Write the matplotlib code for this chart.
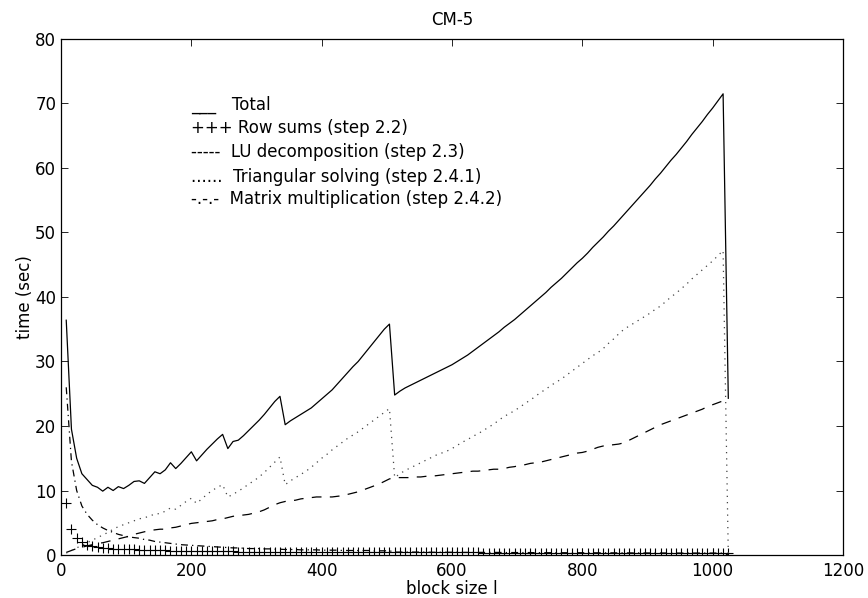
import matplotlib
matplotlib.use("Agg")
import matplotlib.pyplot as plt

plt.rcParams["font.family"] = ["DejaVu Sans"]
plt.rcParams["lines.scale_dashes"] = False

# block sizes l (8 .. 1024, step 8)
block_size = [
    8, 16, 24, 32, 40, 48, 56, 64, 72, 80, 88, 96, 104, 112, 120, 128,
    136, 144, 152, 160, 168, 176, 184, 192, 200, 208, 216, 224, 232, 240, 248, 256,
    264, 272, 280, 288, 296, 304, 312, 320, 328, 336, 344, 352, 360, 368, 376, 384,
    392, 400, 408, 416, 424, 432, 440, 448, 456, 464, 472, 480, 488, 496, 504, 512,
    520, 528, 536, 544, 552, 560, 568, 576, 584, 592, 600, 608, 616, 624, 632, 640,
    648, 656, 664, 672, 680, 688, 696, 704, 712, 720, 728, 736, 744, 752, 760, 768,
    776, 784, 792, 800, 808, 816, 824, 832, 840, 848, 856, 864, 872, 880, 888, 896,
    904, 912, 920, 928, 936, 944, 952, 960, 968, 976, 984, 992, 1000, 1008, 1016, 1024,
]

total = [
    36.4, 19.5, 15.0, 12.6, 11.7, 10.8, 10.5, 9.9, 10.5, 10.0, 10.6, 10.3, 10.8, 11.4, 11.5, 11.1,
    12.0, 12.9, 12.6, 13.2, 14.3, 13.4, 14.2, 15.1, 16.0, 14.6, 15.5, 16.4, 17.2, 18.0, 18.7, 16.5,
    17.6, 17.8, 18.5, 19.3, 20.1, 20.9, 21.8, 22.8, 23.8, 24.6, 20.2, 20.8, 21.3, 21.8, 22.3, 22.8,
    23.5, 24.2, 24.9, 25.6, 26.5, 27.4, 28.3, 29.2, 30.0, 31.0, 32.0, 33.0, 34.0, 35.0, 35.8, 24.8,
    25.4, 25.9, 26.3, 26.7, 27.1, 27.5, 27.9, 28.3, 28.7, 29.1, 29.5, 30.0, 30.5, 31.0, 31.6, 32.2,
    32.8, 33.4, 34.0, 34.6, 35.3, 35.9, 36.5, 37.2, 37.9, 38.6, 39.3, 40.0, 40.7, 41.5, 42.2, 42.9,
    43.7, 44.5, 45.3, 46.0, 46.8, 47.7, 48.5, 49.3, 50.2, 51.0, 51.9, 52.8, 53.7, 54.6, 55.5, 56.4,
    57.3, 58.3, 59.2, 60.2, 61.2, 62.1, 63.1, 64.1, 65.2, 66.2, 67.2, 68.3, 69.3, 70.4, 71.5, 24.3,
]

row_sums = [
    8.0, 4.0, 2.6, 2.0, 1.6, 1.4, 1.25, 1.15, 1.1, 1.0, 0.98, 0.93, 0.9, 0.87, 0.84, 0.8,
    0.78, 0.75, 0.73, 0.71, 0.69, 0.67, 0.66, 0.65, 0.64, 0.62, 0.61, 0.6, 0.59, 0.58, 0.57, 0.56,
    0.55, 0.54, 0.53, 0.53, 0.52, 0.51, 0.5, 0.5, 0.49, 0.49, 0.48, 0.48, 0.47, 0.47, 0.46, 0.46,
    0.45, 0.45, 0.45, 0.44, 0.44, 0.44, 0.43, 0.43, 0.43, 0.42, 0.42, 0.42, 0.42, 0.41, 0.41, 0.41,
    0.4, 0.4, 0.4, 0.4, 0.4, 0.4, 0.4, 0.4, 0.39, 0.39, 0.39, 0.39, 0.39, 0.39, 0.39, 0.39,
    0.38, 0.38, 0.38, 0.38, 0.38, 0.38, 0.38, 0.38, 0.37, 0.37, 0.37, 0.37, 0.37, 0.37, 0.37, 0.37,
    0.36, 0.36, 0.36, 0.36, 0.36, 0.36, 0.36, 0.36, 0.35, 0.35, 0.35, 0.35, 0.35, 0.35, 0.35, 0.35,
    0.34, 0.34, 0.34, 0.34, 0.34, 0.34, 0.34, 0.34, 0.33, 0.33, 0.33, 0.33, 0.33, 0.33, 0.32, 0.3,
]

lu_decomp = [
    0.4, 0.7, 1.0, 1.2, 1.4, 1.6, 1.8, 1.9, 2.1, 2.3, 2.5, 2.7, 2.9, 3.2, 3.4, 3.6,
    3.8, 3.9, 4.0, 4.0, 4.2, 4.3, 4.5, 4.7, 4.9, 5.0, 5.1, 5.2, 5.3, 5.5, 5.6, 5.8,
    6.0, 6.1, 6.2, 6.3, 6.5, 6.7, 7.0, 7.4, 7.8, 8.1, 8.3, 8.4, 8.5, 8.7, 8.8, 8.9,
    9.0, 9.0, 9.0, 9.0, 9.1, 9.2, 9.4, 9.6, 9.8, 10.1, 10.4, 10.7, 11.0, 11.4, 11.8, 12.0,
    12.0, 12.0, 12.0, 12.1, 12.1, 12.2, 12.2, 12.3, 12.4, 12.5, 12.6, 12.7, 12.8, 12.9, 13.0, 13.0,
    13.1, 13.2, 13.3, 13.3, 13.4, 13.6, 13.7, 13.9, 14.0, 14.2, 14.3, 14.4, 14.6, 14.8, 15.0, 15.2,
    15.4, 15.6, 15.8, 15.9, 16.1, 16.4, 16.7, 16.9, 17.0, 17.1, 17.2, 17.4, 17.8, 18.2, 18.6, 19.0,
    19.4, 19.8, 20.2, 20.5, 20.8, 21.1, 21.4, 21.7, 22.0, 22.3, 22.6, 23.0, 23.3, 23.6, 23.9, 24.2,
]

tri_solve = [
    0.3, 0.7, 1.1, 1.5, 1.9, 2.3, 2.7, 3.1, 3.5, 4.0, 4.4, 4.7, 5.0, 5.3, 5.6, 5.8,
    6.0, 6.4, 6.4, 6.8, 7.3, 7.1, 7.7, 8.3, 8.8, 8.0, 8.7, 9.4, 10.0, 10.5, 10.9, 9.0,
    9.4, 9.9, 10.4, 11.0, 11.5, 12.1, 12.8, 13.6, 14.4, 15.2, 10.9, 11.5, 12.0, 12.5, 13.0, 13.6,
    14.3, 15.0, 15.6, 16.3, 16.9, 17.5, 18.1, 18.6, 19.1, 19.7, 20.3, 20.9, 21.5, 22.1, 22.7, 12.0,
    12.6, 13.1, 13.5, 13.9, 14.3, 14.7, 15.1, 15.5, 15.8, 16.1, 16.5, 17.0, 17.5, 17.9, 18.4, 18.8,
    19.3, 19.8, 20.3, 20.9, 21.5, 21.9, 22.4, 22.9, 23.5, 24.0, 24.6, 25.2, 25.7, 26.3, 26.8, 27.3,
    27.9, 28.5, 29.1, 29.7, 30.3, 30.9, 31.4, 32.0, 32.8, 33.5, 34.3, 35.0, 35.5, 36.0, 36.5, 37.0,
    37.5, 38.1, 38.6, 39.3, 40.0, 40.6, 41.3, 42.0, 42.8, 43.5, 44.2, 44.9, 45.6, 46.4, 47.2, 0.0,
]

mat_mult = [
    26.0, 14.5, 10.0, 7.6, 6.3, 5.4, 4.7, 4.2, 3.8, 3.5, 3.2, 3.0, 2.8, 2.7, 2.6, 2.4,
    2.3, 2.1, 2.0, 1.9, 1.8, 1.7, 1.6, 1.55, 1.5, 1.45, 1.4, 1.35, 1.3, 1.25, 1.2, 1.15,
    1.1, 1.1, 1.05, 1.0, 1.0, 1.0, 0.95, 0.95, 0.9, 0.9, 0.85, 0.85, 0.85, 0.8, 0.8, 0.8,
    0.8, 0.75, 0.75, 0.75, 0.75, 0.7, 0.7, 0.7, 0.7, 0.7, 0.7, 0.65, 0.65, 0.65, 0.65, 0.45,
    0.45, 0.45, 0.45, 0.45, 0.45, 0.45, 0.42, 0.42, 0.42, 0.42, 0.42, 0.42, 0.4, 0.4, 0.4, 0.4,
    0.4, 0.4, 0.4, 0.4, 0.38, 0.38, 0.38, 0.38, 0.38, 0.38, 0.36, 0.36, 0.36, 0.36, 0.36, 0.36,
    0.35, 0.35, 0.35, 0.35, 0.34, 0.34, 0.34, 0.34, 0.33, 0.33, 0.33, 0.33, 0.32, 0.32, 0.32, 0.32,
    0.31, 0.31, 0.31, 0.31, 0.3, 0.3, 0.3, 0.3, 0.3, 0.3, 0.3, 0.3, 0.3, 0.3, 0.3, 0.0,
]

legend_lines = [
    "___   Total",
    "+++ Row sums (step 2.2)",
    "-----  LU decomposition (step 2.3)",
    "......  Triangular solving (step 2.4.1)",
    "-.-.-  Matrix multiplication (step 2.4.2)",
]
legend_y = [69.8, 66.2, 62.5, 58.6, 55.2]

fig = plt.figure(figsize=(8.68, 5.98), dpi=100)
ax = fig.add_axes([0.0703, 0.0719, 0.9009, 0.8629])

ax.plot(block_size, total, color="black", lw=0.9)
ax.plot(block_size, row_sums, linestyle="none", marker="+", color="black",
        markersize=7, markeredgewidth=0.8)
ax.plot(block_size, lu_decomp, color="black", lw=0.9, dashes=(7, 6))
ax.plot(block_size, tri_solve, color="#444444", lw=0.9, dashes=(0.9, 3.6))
ax.plot(block_size, mat_mult, color="black", lw=0.9, dashes=(5, 3, 0.9, 3))

for txt, yy in zip(legend_lines, legend_y):
    ax.text(200, yy, txt, fontsize=12, va="center", ha="left")

ax.set_xlim(0, 1200)
ax.set_ylim(0, 80)
ax.set_xticks(range(0, 1201, 200))
ax.set_yticks(range(0, 81, 10))
ax.tick_params(direction="in", top=True, right=True, length=5, width=0.6,
               labelsize=12)
ax.tick_params(axis="x", pad=5)
ax.tick_params(axis="y", pad=3.5)
for s in ax.spines.values():
    s.set_linewidth(0.9)

ax.set_title("CM-5", fontsize=12, pad=10)
ax.set_xlabel("block size l", fontsize=12, labelpad=0)
ax.set_ylabel("time (sec)", fontsize=12, labelpad=1)

fig.savefig("out.png", dpi=100)
